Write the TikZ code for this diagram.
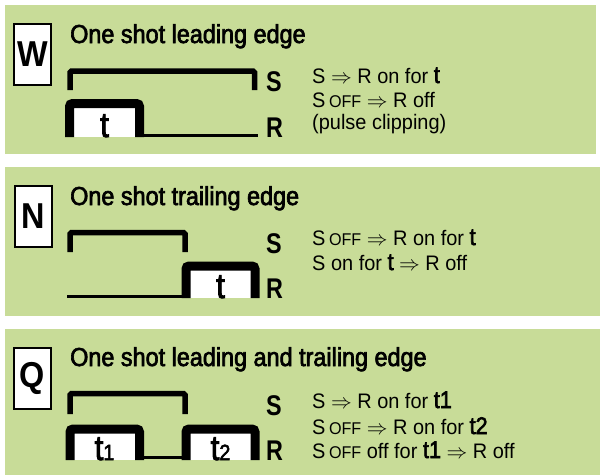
\documentclass[tikz,border=0pt]{standalone}
\usepackage{fontspec}
\setmainfont{Liberation Sans}
\newfontfamily\titlef[FakeStretch=0.9,FakeBold=2.5]{Liberation Sans}
\newfontfamily\bodyf[FakeStretch=0.95]{Liberation Sans}
\newfontfamily\boldf[FakeStretch=0.82]{Liberation Sans Bold}
\newfontfamily\letterf[FakeStretch=0.9]{Liberation Sans Bold}
\newfontfamily\pulsef[FakeStretch=0.9,FakeBold=2.5]{Liberation Sans}
\definecolor{panelgreen}{RGB}{200,220,152}
\newcommand{\soff}{S\,{\fontsize{17}{20}\selectfont OFF}}
\newcommand{\bt}[1]{{\pulsef\fontsize{24}{26}\selectfont #1}}
\begin{document}
\begin{tikzpicture}[x=1pt,y=-1pt,
  panel/.style={fill=panelgreen,draw=none},
  letterbox/.style={draw=black,line width=2pt,fill=white,minimum width=37pt,minimum height=61pt,inner sep=0pt,font=\letterf\fontsize{36}{40}\selectfont},
  titletext/.style={anchor=base west,inner sep=0pt,font=\titlef\fontsize{26}{30}\selectfont},
  siglab/.style={anchor=base west,inner sep=0pt,font=\boldf\fontsize{28.5}{30}\selectfont},
  desc/.style={anchor=base west,inner sep=0pt,font=\bodyf\fontsize{21}{24}\selectfont},
  pulselab/.style={anchor=base,inner sep=0pt,font=\pulsef\fontsize{35}{36}\selectfont},
  sline/.style={line width=5.5pt,rounded corners=1.5pt},
  pulse/.style={line width=9pt,rounded corners=3pt},
  rline/.style={line width=3pt},
]
\useasboundingbox (0,0) rectangle (600,475);
\fill[white] (0,0) rectangle (600,475);
% panels
\fill[panel] (5,5) rectangle (596,154);
\fill[panel] (5,167) rectangle (600,316);
\fill[panel] (5,329) rectangle (600,475);

% ---------- Panel W ----------
\node[letterbox] (bw) at (32.8,54.2) {W};
\node[titletext] (tw) at (70,43) {One shot leading edge};
\draw[sline] (70,90) -- (70,71) -- (254.5,71) -- (254.5,90);
\fill[white] (74,108) rectangle (135,137);
\draw[pulse] (69.5,137) -- (69.5,103.5) -- (139.5,103.5) -- (139.5,137);
\draw[rline] (139.5,135.5) -- (258,135.5);
\node[pulselab] (pw) at (104.5,137) {t};
\node[siglab] (sw) at (266,91) {S};
\node[siglab] (rw) at (266,137) {R};
\node[desc] (dw1) at (312,83) {S $\Rightarrow$ R on for \bt{t}};
\node[desc] (dw2) at (312,107) {\soff{} $\Rightarrow$ R off};
\node[desc] (dw3) at (312,129) {(pulse clipping)};

% ---------- Panel N ----------
\node[letterbox] (bn) at (33,216) {N};
\node[titletext] (tn) at (70,205) {One shot trailing edge};
\draw[sline] (70,252) -- (70,232.5) -- (185,232.5) -- (185,252);
\draw[rline] (67,296.5) -- (186,296.5);
\fill[white] (190,270) rectangle (251,298);
\draw[pulse] (186,298) -- (186,266) -- (255,266) -- (255,298);
\node[pulselab] (pn) at (220.5,298) {t};
\node[siglab] (sn) at (266,253) {S};
\node[siglab] (rn) at (266,298) {R};
\node[desc] (dn1) at (312,245) {\soff{} $\Rightarrow$ R on for \bt{t}};
\node[desc] (dn2) at (312,270) {S on for \bt{t} $\Rightarrow$ R off};

% ---------- Panel Q ----------
\node[letterbox] (bq) at (32.5,378) {Q};
\node[titletext] (tq) at (70,366) {One shot leading and trailing edge};
\draw[sline] (70,414) -- (70,393.5) -- (185,393.5) -- (185,414);
\fill[white] (74,433) rectangle (135,460);
\draw[pulse] (70,460) -- (70,429) -- (139.5,429) -- (139.5,460);
\draw[rline] (139.5,457) -- (186,457);
\fill[white] (190,433) rectangle (251,460);
\draw[pulse] (186,460) -- (186,429) -- (255,429) -- (255,460);
\node[pulselab] (pq1) at (104.5,460) {t{\fontsize{22}{24}\selectfont 1}};
\node[pulselab] (pq2) at (220.5,460) {t{\fontsize{22}{24}\selectfont 2}};
\node[siglab] (sq) at (266,415) {S};
\node[siglab] (rq) at (266,460) {R};
\node[desc] (dq1) at (312,408) {S $\Rightarrow$ R on for \bt{t1}};
\node[desc] (dq2) at (312,434) {\soff{} $\Rightarrow$ R on for \bt{t2}};
\node[desc] (dq3) at (312,458) {\soff{} off for \bt{t1} $\Rightarrow$ R off};
\end{tikzpicture}
\end{document}
